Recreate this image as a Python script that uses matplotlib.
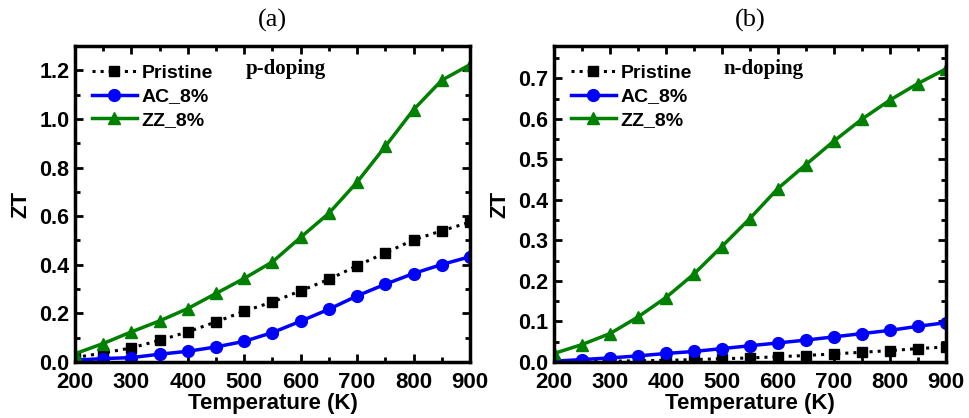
import numpy as np
import matplotlib
matplotlib.use("Agg")
import matplotlib.pyplot as plt
from matplotlib.ticker import MultipleLocator, FormatStrFormatter

plt.rcParams['font.family'] = ['Liberation Sans', 'DejaVu Sans']
plt.rcParams['font.weight'] = 'bold'

temp = [200, 250, 300, 350, 400, 450, 500, 550, 600, 650, 700, 750, 800, 850, 900]

# p-doping
p_pristine = [0.018, 0.037, 0.058, 0.089, 0.124, 0.165, 0.209, 0.247, 0.293, 0.340,
              0.396, 0.449, 0.502, 0.540, 0.575]
p_ac = [0.007, 0.014, 0.018, 0.032, 0.044, 0.062, 0.085, 0.121, 0.168, 0.217,
        0.272, 0.320, 0.364, 0.401, 0.433]
p_zz = [0.034, 0.076, 0.124, 0.169, 0.220, 0.282, 0.344, 0.412, 0.513, 0.612,
        0.740, 0.887, 1.038, 1.159, 1.223]

# n-doping
n_pristine = [0.000, 0.001, 0.002, 0.003, 0.004, 0.006, 0.008, 0.010, 0.013, 0.016,
              0.020, 0.024, 0.028, 0.033, 0.037]
n_ac = [0.002, 0.006, 0.010, 0.015, 0.021, 0.026, 0.033, 0.040, 0.047, 0.054,
        0.062, 0.070, 0.078, 0.088, 0.097]
n_zz = [0.021, 0.043, 0.070, 0.111, 0.159, 0.217, 0.285, 0.354, 0.428, 0.487,
        0.545, 0.599, 0.646, 0.687, 0.723]

panels = [
    dict(title='(a)', tag='p-doping', data=(p_pristine, p_ac, p_zz),
         ylim=1.3, major=0.2, minor=0.1, rect=[0.0774, 0.134, 0.4076, 0.756]),
    dict(title='(b)', tag='n-doping', data=(n_pristine, n_ac, n_zz),
         ylim=0.78, major=0.1, minor=0.05, rect=[0.5717, 0.134, 0.4042, 0.756]),
]

fig = plt.figure(figsize=(9.69, 4.18), dpi=100)

for p in panels:
    ax = fig.add_axes(p['rect'])
    pr, ac, zz = p['data']
    ax.plot(temp, pr, color='black', linestyle=':', linewidth=2.2,
            marker='s', markersize=7.5, label='Pristine')
    ax.plot(temp, ac, color='#0000ff', linestyle='-', linewidth=2.5,
            marker='o', markersize=8.5, label='AC_8%')
    ax.plot(temp, zz, color='#008000', linestyle='-', linewidth=2.5,
            marker='^', markersize=8.5, label='ZZ_8%')

    ax.set_xlim(200, 900)
    ax.set_ylim(0, p['ylim'])
    ax.xaxis.set_major_locator(MultipleLocator(100))
    ax.xaxis.set_minor_locator(MultipleLocator(50))
    ax.yaxis.set_major_locator(MultipleLocator(p['major']))
    ax.yaxis.set_minor_locator(MultipleLocator(p['minor']))
    ax.yaxis.set_major_formatter(FormatStrFormatter('%.1f'))
    ax.tick_params(which='both', direction='in', top=True, right=True, width=2)
    ax.tick_params(axis='x', labelsize=16, pad=7)
    ax.tick_params(axis='y', labelsize=15.5, pad=4)
    ax.tick_params(which='major', length=6)
    ax.tick_params(which='minor', length=3.5)
    for s in ax.spines.values():
        s.set_linewidth(2.5)

    ax.set_xlabel('Temperature (K)', fontsize=16, fontweight='bold', labelpad=0)
    ax.set_ylabel('ZT', fontsize=16, fontweight='bold', labelpad=6)

    leg = ax.legend(loc='upper left', bbox_to_anchor=(0.043, 0.942), frameon=False,
                    fontsize=14, handlelength=2.3, handletextpad=0.25,
                    labelspacing=0.3, borderaxespad=0, borderpad=0)
    for t in leg.get_texts():
        t.set_fontweight('bold')

    ax.text(0.534, 0.927, p['tag'], transform=ax.transAxes, ha='center', va='center',
            fontsize=15, fontweight='bold', family='Liberation Serif')

    # panel letter above each axes
    x0, y0, w, h = p['rect']
    fig.text(x0 + w / 2, 0.952, p['title'], ha='center', va='center',
             fontsize=19, fontweight='normal', family='Liberation Serif')

fig.savefig('out.png', dpi=100)
